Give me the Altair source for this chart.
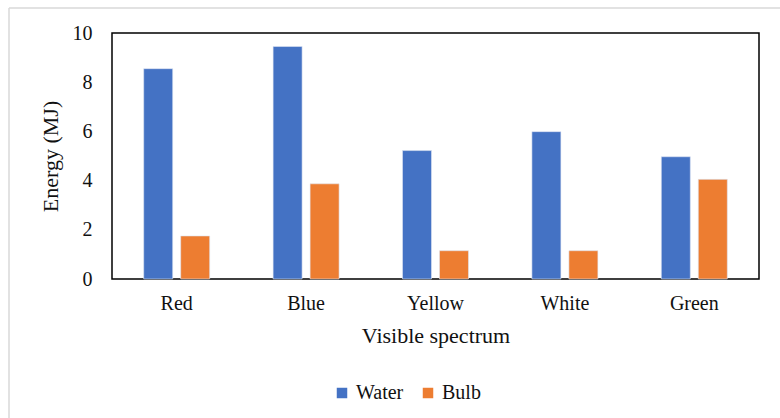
import altair as alt
import pandas as pd

categories = ["Red", "Blue", "Yellow", "White", "Green"]
water = [8.55, 9.45, 5.22, 5.99, 4.97]
bulb = [1.75, 3.87, 1.15, 1.15, 4.05]
series = ["Water", "Bulb"]
colors = ["#4472C4", "#ED7D31"]

rows = []
for c, w, b in zip(categories, water, bulb):
    rows.append({"cat": c, "series": "Water", "value": w})
    rows.append({"cat": c, "series": "Bulb", "value": b})
df = pd.DataFrame(rows)

FONT = "Liberation Serif"
LEGEND_FONT = "Liberation Serif, Times New Roman, serif"

bars = alt.Chart(df).mark_bar(stroke="#dfe6f3", strokeWidth=0.6).encode(
    x=alt.X("cat:N", sort=categories,
            scale=alt.Scale(paddingInner=0.49, paddingOuter=0.245),
            axis=alt.Axis(title="Visible spectrum", labelAngle=0, ticks=False,
                          domain=False, labelPadding=14, titlePadding=12)),
    xOffset=alt.XOffset("series:N", sort=series,
                        scale=alt.Scale(paddingInner=0.216, paddingOuter=0)),
    y=alt.Y("value:Q", scale=alt.Scale(domain=[0, 10]),
            axis=alt.Axis(title="Energy (MJ)", values=[0, 2, 4, 6, 8, 10],
                          ticks=False, domain=False, grid=False,
                          labelPadding=20, titlePadding=10)),
    color=alt.Color("series:N", sort=series,
                    scale=alt.Scale(domain=series, range=colors),
                    legend=alt.Legend(title=None, orient="none", direction="horizontal",
                                      legendX=220, legendY=350,
                                      symbolType="square", symbolSize=110,
                                      symbolStrokeWidth=0, labelFontSize=20,
                                      labelFont=LEGEND_FONT, columnPadding=14,
                                      labelOffset=4)),
)

frame = alt.Chart(alt.Data(values=[{}])).mark_rule(color="#d9d9d9", strokeWidth=1.5).encode(
    x=alt.value(-103), y=alt.value(-25), y2=alt.value(420)
)
frame_top = alt.Chart(alt.Data(values=[{}])).mark_rule(color="#d9d9d9", strokeWidth=1.5).encode(
    x=alt.value(-103), x2=alt.value(700), y=alt.value(-25)
)

chart = alt.layer(frame, frame_top, bars).properties(
    width=647, height=246,
    autosize=alt.AutoSizeParams(type="none"),
    padding={"left": 112, "top": 33, "right": 21, "bottom": 139},
    background="white",
).configure(
    font=FONT
).configure_view(
    stroke="black", strokeWidth=1.5
).configure_axis(
    labelFont=FONT, titleFont=FONT, labelFontSize=20, titleFontSize=22,
    labelColor="#111", titleColor="#111", titleFontWeight="normal"
).configure_legend(
    labelFont=LEGEND_FONT, labelFontSize=20, labelColor="#111"
)

chart.save("out.html", embed_options={"renderer": "svg", "actions": False})
